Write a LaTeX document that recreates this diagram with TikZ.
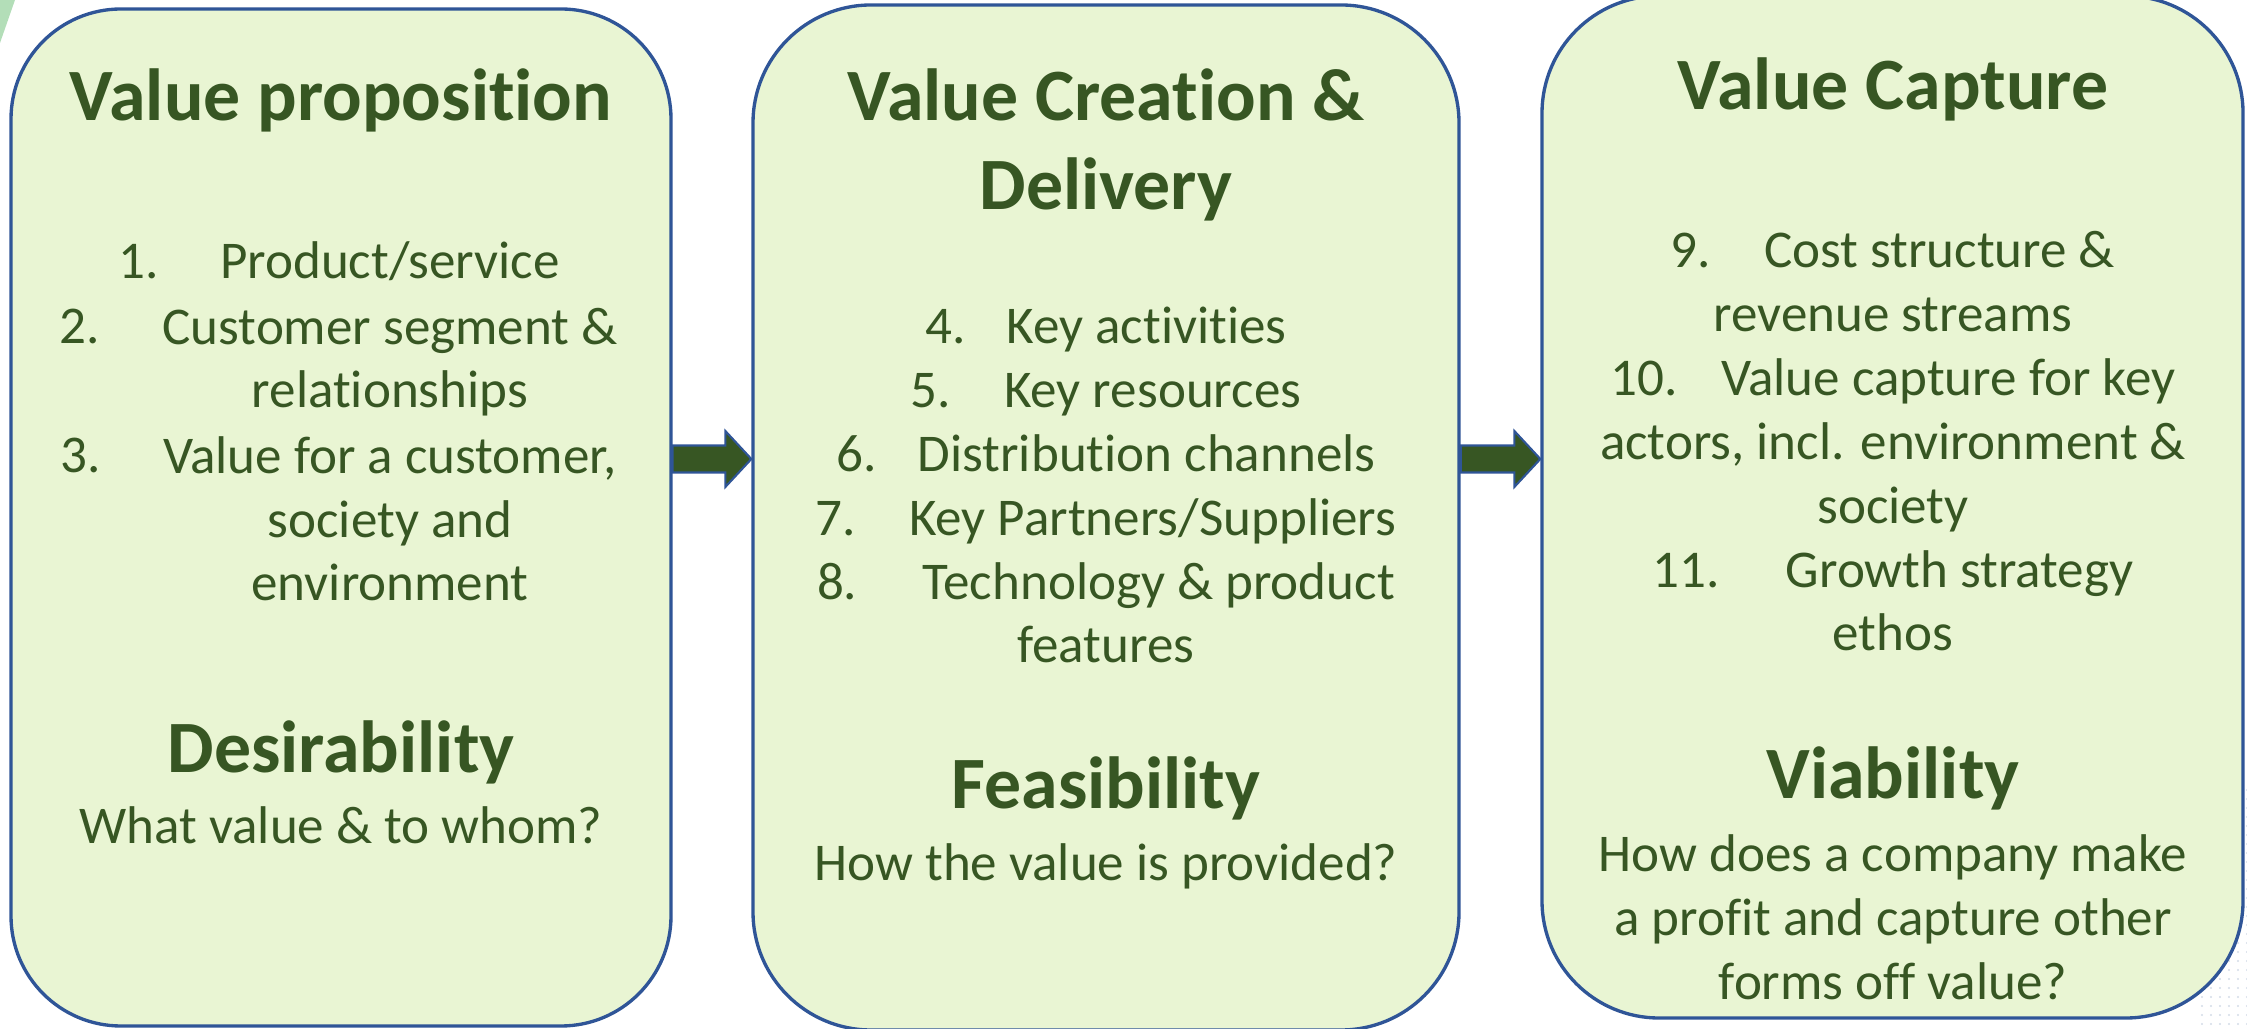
\documentclass[tikz,border=0pt]{standalone}
\usepackage{fontspec}
\setmainfont{Carlito}[Ligatures={NoCommon}]
\usetikzlibrary{calc, positioning}

\definecolor{panelfill}{HTML}{E9F5D3}
\definecolor{panelline}{HTML}{2F5597}
\definecolor{leafgreen}{HTML}{375623}
\definecolor{cornergreen}{HTML}{B3DEB8}
\definecolor{dotgray}{HTML}{D3DCE6}

\tikzset{
  panel/.style={draw=panelline, fill=panelfill, line width=0.95pt, inner sep=0pt},
  heading/.style={text=leafgreen, font=\fontsize{21}{25.6}\selectfont\bfseries, align=center, anchor=base, inner sep=0pt},
  body/.style={text=leafgreen, font=\fontsize{15.1}{18.2}\selectfont, align=center, anchor=base, inner sep=0pt},
  itemno/.style={text=leafgreen, font=\fontsize{15.1}{18.2}\selectfont, anchor=base east, inner sep=0pt},
  arrowbody/.style={fill=leafgreen, draw=panelline, line width=0.6pt, line join=miter},
}

% block arrow: shaft from #1, tip at #2
\newcommand\blockarrow[2]{%
  \filldraw[arrowbody] ($(#1)+(0,0.135)$) -- ($(#2)+(-0.26,0.135)$) -- ($(#2)+(-0.26,0.28)$)
    -- (#2) -- ($(#2)+(-0.26,-0.28)$) -- ($(#2)+(-0.26,-0.135)$) -- ($(#1)+(0,-0.135)$) -- cycle;}

\begin{document}
\begin{tikzpicture}
\useasboundingbox (0,0) rectangle (22.47,-10.29);

% background bits
\fill[cornergreen] (0,0) -- (0.15,0) -- (0,-0.43) -- cycle;
\foreach \x in {22.02,22.11,...,22.47}
  \foreach \y in {-7.9,-7.99,...,-10.29}
    \fill[dotgray] (\x,\y) circle (0.011);

% the three panels
\node[panel, minimum width=6.60cm, minimum height=10.17cm, rounded corners=1.10cm] (vp) at (3.41,-5.175) {};
\node[panel, minimum width=7.06cm, minimum height=10.25cm, rounded corners=1.18cm] (vcd) at (11.06,-5.175) {};
\node[panel, minimum width=7.01cm, minimum height=10.22cm, rounded corners=1.17cm] (vcap) at (18.925,-5.07) {};

% value proposition (multi-line nodes sit on their last line)
\coordinate (row1) at (0,-2.79);
\coordinate (row2) at (0,-3.44);
\coordinate (row3) at (0,-4.73);
\node[heading] (vp-title) at (3.41,-1.21) {Value proposition};
\node[body] (vp-i1) at (3.90,-2.79) {Product/service};
\node[body] (vp-i2) at (3.90,-4.08) {Customer segment \&\\relationships};
\node[body] (vp-i3) at (3.90,-6.01) {Value for a customer,\\society and\\environment};
\node[itemno, xshift=-0.60cm] (vp-n1) at (vp-i1.west |- row1) {1.};
\node[itemno, xshift=-0.61cm] (vp-n2) at (vp-i2.west |- row2) {2.};
\node[itemno, xshift=-0.61cm] (vp-n3) at (vp-i3.west |- row3) {3.};
\node[heading] (vp-goal) at (3.41,-7.73) {Desirability};
\node[body] (vp-ask) at (3.41,-8.44) {What value \& to whom?};

% value creation & delivery
\node[heading] (vcd-title) at (11.06,-2.10) {Value Creation \&\\Delivery};
\node[body] (vcd-list) at (11.06,-6.63) {4.\hspace{0.41cm}Key activities\\5.\hspace{0.53cm}Key resources\\6.\hspace{0.41cm}Distribution channels\\7.\hspace{0.53cm}Key Partners/Suppliers\\8.\hspace{0.65cm}Technology \& product\\features};
\node[heading] (vcd-goal) at (11.06,-8.09) {Feasibility};
\node[body] (vcd-ask) at (11.06,-8.80) {How the value is provided?};

% value capture
\node[heading] (vcap-title) at (18.93,-1.10) {Value Capture};
\node[body] (vcap-list) at (18.93,-6.51) {9.\hspace{0.53cm}Cost structure \&\\revenue streams\\10.\hspace{0.43cm}Value capture for key\\actors, incl. environment \&\\society\\11.\hspace{0.66cm}Growth strategy\\ethos};
\node[heading] (vcap-goal) at (18.93,-7.99) {Viability};
\node[body] (vcap-ask) at (18.93,-9.99) {How does a company make\\a profit and capture other\\forms off value?};

% arrows between panels
\coordinate (arrowrow) at (0,-4.59);
\coordinate (a1from) at (vp.east |- arrowrow);
\coordinate (a1to) at (vcd.west |- arrowrow);
\coordinate (a2from) at (vcd.east |- arrowrow);
\coordinate (a2to) at (vcap.west |- arrowrow);
\blockarrow{a1from}{a1to}
\blockarrow{a2from}{a2to}
\end{tikzpicture}
\end{document}
